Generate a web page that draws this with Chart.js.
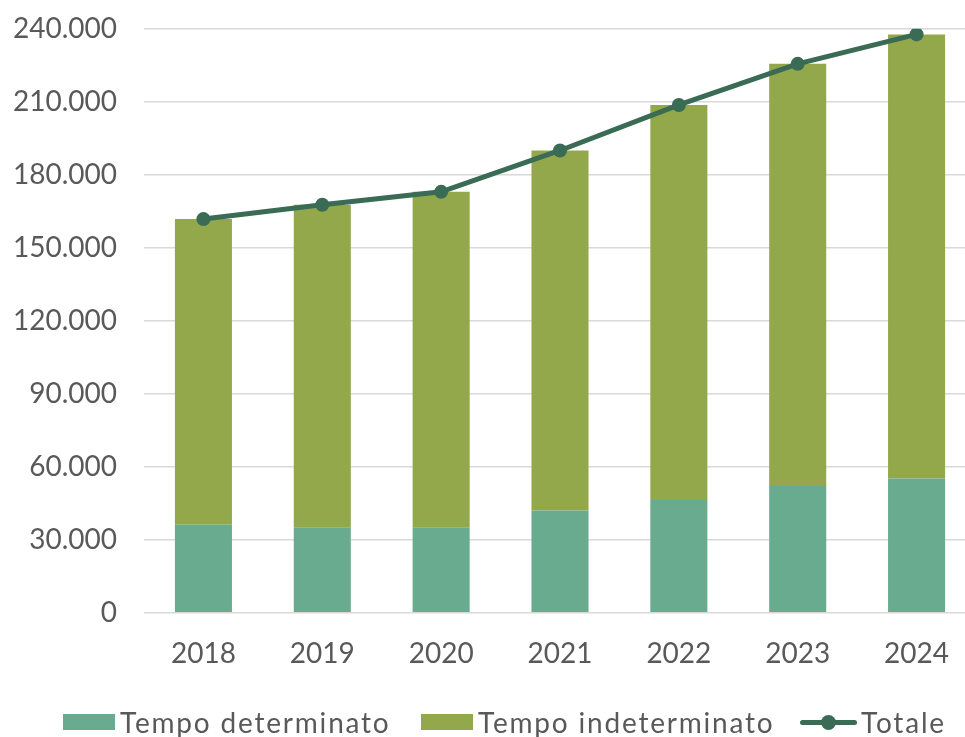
<!DOCTYPE html>
<html>
<head>
<meta charset="utf-8">
<script src="https://cdn.jsdelivr.net/npm/chart.js@4.4.1/dist/chart.umd.min.js"></script>
<style>
html,body{margin:0;padding:0;overflow:hidden;background:#fff;width:965px;height:737px;}
#wrap{position:relative;width:965px;height:737px;overflow:hidden;}
canvas{position:absolute;left:0;top:-15.5px;}
.leg{position:absolute;top:704px;height:36px;display:flex;align-items:center;font-family:Lato,sans-serif;font-size:28px;color:#595959;white-space:nowrap;letter-spacing:1.8px;}
.box{display:inline-block;width:52px;height:16px;margin-right:5px;}
.ln{display:inline-block;position:relative;width:57px;height:5px;margin-right:4px;background:#3a6b55;border-radius:3px;}
.ln:after{content:"";position:absolute;left:21px;top:-5px;width:15px;height:15px;border-radius:50%;background:#3a6b55;}
</style>
</head>
<body>
<div id="wrap">
<canvas id="c" width="983" height="752"></canvas>
<div class="leg" style="left:63px"><span class="box" style="background:#69ab8f"></span><span id="l0"></span></div>
<div class="leg" style="left:421px"><span class="box" style="background:#93a84b"></span><span id="l1"></span></div>
<div class="leg" style="left:800px"><span class="ln"></span><span id="l2"></span></div>
</div>
<script>
const categories = ['2018','2019','2020','2021','2022','2023','2024'];
const seriesNames = ['Tempo determinato','Tempo indeterminato','Totale'];
const tempoDeterminato = [36200, 35200, 35200, 42000, 46400, 52100, 55200];
const tempoIndeterminato = [125600, 132500, 137800, 148000, 162300, 173500, 182500];
const totale = [161800, 167700, 173000, 190000, 208700, 225600, 237700];
const yTicks = [0, 30000, 60000, 90000, 120000, 150000, 180000, 210000, 240000];

document.getElementById('l0').textContent = seriesNames[0];
document.getElementById('l1').textContent = seriesNames[1];
document.getElementById('l2').textContent = seriesNames[2];

function fmt(v){ return String(v).replace(/\B(?=(\d{3})+(?!\d))/g, '.'); }

const textColor = '#595959';
new Chart(document.getElementById('c'), {
  data: {
    labels: categories,
    datasets: [
      { type:'line', label: seriesNames[2], data: totale, order: 0, stack:'tot',
        borderColor:'#3a6b55', backgroundColor:'#3a6b55', borderWidth:5,
        pointRadius:7, pointHoverRadius:7, pointBackgroundColor:'#3a6b55', pointBorderWidth:0,
        tension:0, fill:false },
      { type:'bar', label: seriesNames[0], data: tempoDeterminato, order: 1, stack:'a',
        backgroundColor:'#69ab8f', barPercentage:0.48, categoryPercentage:1 },
      { type:'bar', label: seriesNames[1], data: tempoIndeterminato, order: 1, stack:'a',
        backgroundColor:'#93a84b', barPercentage:0.48, categoryPercentage:1 }
    ]
  },
  options: {
    responsive:false, animation:false, devicePixelRatio:1,
    layout:{ padding:{ top:12, right:0, left:0, bottom:44.2 } },
    plugins:{ legend:{display:false}, tooltip:{enabled:false} },
    scales:{
      x:{ stacked:true,
        grid:{display:false}, border:{display:false},
        ticks:{ color:textColor, font:{family:'Lato', size:28}, padding:16, maxRotation:0 },
        afterFit(s){ s.height = 80; } },
      y:{ stacked:true, min:0, max:240000,
        afterBuildTicks(s){ s.ticks = yTicks.map(v=>({value:v})); },
        grid:{ color:'#d9d9d9', lineWidth:1.5, drawTicks:false }, border:{display:false},
        ticks:{ color:textColor, font:{family:'Lato', size:28}, padding:27, callback:v=>fmt(v) },
        afterFit(s){ s.width = 144; } }
    }
  }
});
</script>
</body>
</html>
